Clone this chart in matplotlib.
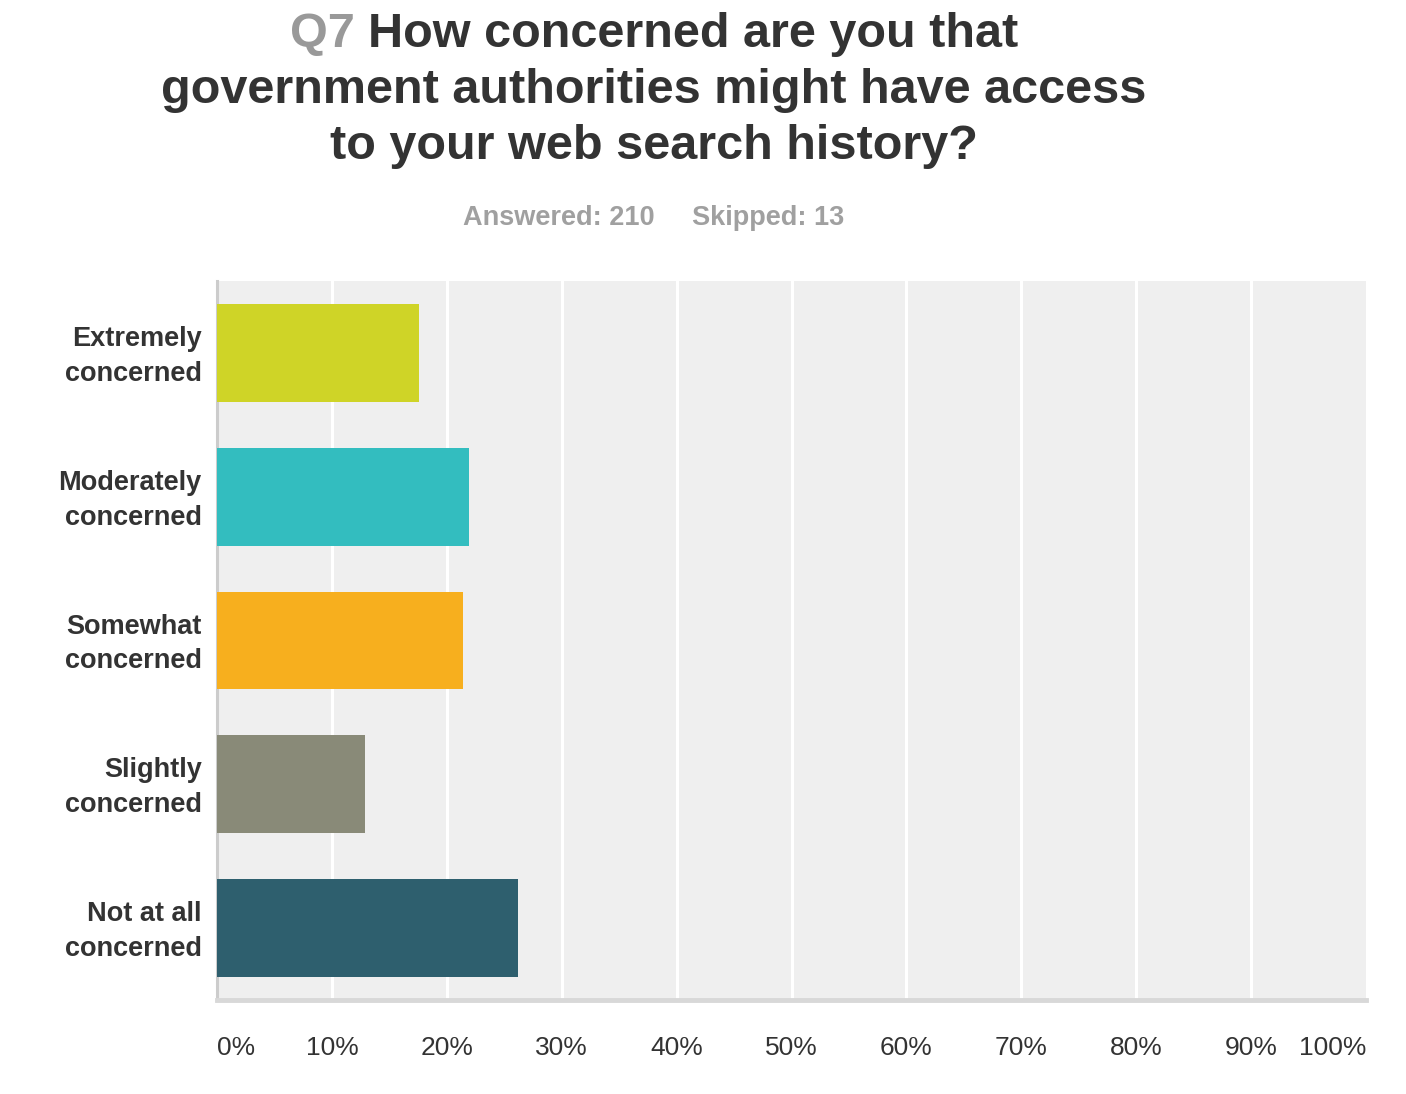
import matplotlib
matplotlib.use("Agg")
import matplotlib.pyplot as plt
import matplotlib.transforms as mtransforms

categories = ["Extremely\nconcerned", "Moderately\nconcerned", "Somewhat\nconcerned",
              "Slightly\nconcerned", "Not at all\nconcerned"]
values = [17.62, 21.90, 21.43, 12.86, 26.19]
colors = ["#CFD427", "#33BDBF", "#F7AF1E", "#898A78", "#2E5F6E"]
tick_vals = [0, 10, 20, 30, 40, 50, 60, 70, 80, 90, 100]
tick_labels = ["0%", "10%", "20%", "30%", "40%", "50%", "60%", "70%", "80%", "90%", "100%"]

plt.rcParams['font.family'] = ['Liberation Sans', 'DejaVu Sans']

W, H = 1406, 1094
fig = plt.figure(figsize=(W / 100, H / 100), dpi=100)
ax = fig.add_axes([217 / W, 1 - 1000 / H, (1366 - 217) / W, (1000 - 281) / H])
ax.set_facecolor("#EFEFEF")

ypos = list(range(len(categories)))
ax.barh(ypos, values, height=0.68, color=colors, zorder=3)
ax.set_ylim(len(categories) - 0.5, -0.5)
ax.set_xlim(0, 100)

for v in tick_vals[1:-1]:
    ax.axvline(v, color="white", lw=2.2, zorder=1)

for s in ["top", "right"]:
    ax.spines[s].set_visible(False)
ax.spines["left"].set_color("#CCCCCC")
ax.spines["left"].set_linewidth(2.2)
ax.spines["bottom"].set_color("#D8D8D8")
ax.spines["bottom"].set_linewidth(3.5)

ax.set_yticks(ypos)
ax.set_yticklabels(categories, fontsize=19.5, fontweight="bold", color="#333333",
                   linespacing=1.45)
ax.tick_params(axis="y", length=0, pad=11)
shift = mtransforms.ScaledTranslation(0, 4 / 100, fig.dpi_scale_trans)
for lab in ax.get_yticklabels():
    lab.set_transform(lab.get_transform() + shift)

ax.set_xticks(tick_vals)
ax.set_xticklabels(tick_labels, fontsize=19, color="#333333")
ax.tick_params(axis="x", length=0, pad=26)
xt = ax.get_xticklabels()
xt[0].set_horizontalalignment("left")
xt[-1].set_horizontalalignment("right")

TS = 35
cx = 654 / W
line1 = "Q7 How concerned are you that"
probe = fig.text(cx, 1 - 47 / H, line1, fontsize=TS, fontweight="bold",
                 ha="center", va="baseline", alpha=0)
fig.canvas.draw()
bb = probe.get_window_extent()
probe.remove()
fig.text(bb.x0 / W, 1 - 47 / H, "Q7", fontsize=TS, fontweight="bold", color="#999999",
         ha="left", va="baseline")
fig.text(bb.x1 / W, 1 - 47 / H, "How concerned are you that", fontsize=TS,
         fontweight="bold", color="#333333", ha="right", va="baseline")
fig.text(cx, 1 - 103 / H, "government authorities might have access", fontsize=TS,
         fontweight="bold", color="#333333", ha="center", va="baseline")
fig.text(cx, 1 - 159 / H, "to your web search history?", fontsize=TS,
         fontweight="bold", color="#333333", ha="center", va="baseline")

fig.text(cx, 1 - 225 / H, "Answered: 210     Skipped: 13", fontsize=19.5,
         fontweight="bold", color="#A0A0A0", ha="center", va="baseline")

fig.savefig("out.png", dpi=100, facecolor="white")
